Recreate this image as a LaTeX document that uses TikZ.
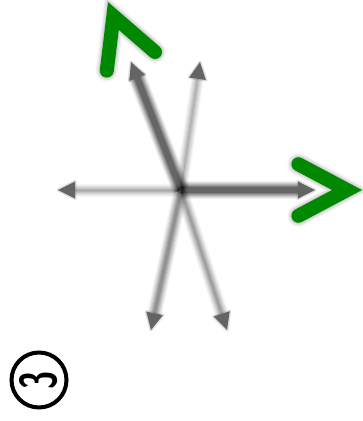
\documentclass[tikz,border=0pt]{standalone}
\usepackage{graphicx}
\usetikzlibrary{calc}
\definecolor{vgreen}{RGB}{0,136,0}
\definecolor{headgray}{RGB}{100,100,100}
\newcommand\blurln[4]{%
  \foreach \d/\o in {10/0.06,8/0.08,6/0.10,4/0.12,2/0.15,0/0.18,-2/0.22}{%
    \draw[line width={max(#3+\d,0.6)}, draw=#4, opacity=\o, line cap=butt] (#1) -- (#2);}}
\newcommand\ahead[2]{% tip, from
  \coordinate (hb) at ($(#1)!17pt!(#2)$);
  \coordinate (hs1) at ($(hb)!8.5pt!90:(#1)$);
  \coordinate (hs2) at ($(hb)!8.5pt!-90:(#1)$);
  \draw[headgray, opacity=0.2, line width=3pt, line join=round] (#1) -- (hs1) -- (hs2) -- cycle;
  \fill[headgray] (#1) -- (hs1) -- (hs2) -- cycle;}
\tikzset{
  chevron/.style={draw=vgreen, line width=14pt, line cap=round, line join=miter},
  chevshadow/.style={draw=black, line cap=round, line join=miter},
}
\begin{document}
\begin{tikzpicture}[x=1pt,y=-1pt]
\useasboundingbox (0,0) rectangle (363,421);
\coordinate (c) at (181,190);
\coordinate (tR) at (315,190);
\coordinate (tUL) at (131,62);
\coordinate (tUR) at (200,62);
\coordinate (tL) at (58,190);
\coordinate (tDL) at (151,330);
\coordinate (tDR) at (227,330);
\foreach \t in {tR,tUL,tUR,tL,tDL,tDR}{\coordinate (b\t) at ($(\t)!14pt!(c)$);}
\blurln{c}{btL}{3}{black!55}
\blurln{c}{btUR}{3}{black!50}
\blurln{c}{btDR}{4}{black!60}
\blurln{c}{btDL}{5}{black!68}
\blurln{c}{btUL}{8}{black!95}
\blurln{c}{btR}{8}{black!95}
\fill[black, opacity=0.3] (c) circle (4pt);
\ahead{tL}{c}
\ahead{tUR}{c}
\ahead{tDR}{c}
\ahead{tDL}{c}
\ahead{tUL}{c}
\ahead{tR}{c}
\coordinate (ga) at (106.8,70.6);
\coordinate (gv) at (113.4,16);
\coordinate (gb) at (155,52);
\coordinate (ra) at (298.4,164.2);
\coordinate (rv) at (347,190);
\coordinate (rb) at (298.4,215.8);
\foreach \w/\o in {22/0.05,19/0.07,16/0.09}{
  \draw[chevshadow, line width=\w pt, opacity=\o, shift={(3,3)}] (ga) -- (gv) -- (gb);
  \draw[chevshadow, line width=\w pt, opacity=\o, shift={(3,3)}] (ra) -- (rv) -- (rb);}
\draw[chevron] (ga) -- (gv) -- (gb);
\draw[chevron] (ra) -- (rv) -- (rb);
\node[circle, draw, line width=4pt, minimum size=55pt, inner sep=0pt] (num) at (39,380)
  {\rotatebox{90}{\resizebox{18pt}{37pt}{\sffamily\bfseries 3}}};
\end{tikzpicture}
\end{document}
